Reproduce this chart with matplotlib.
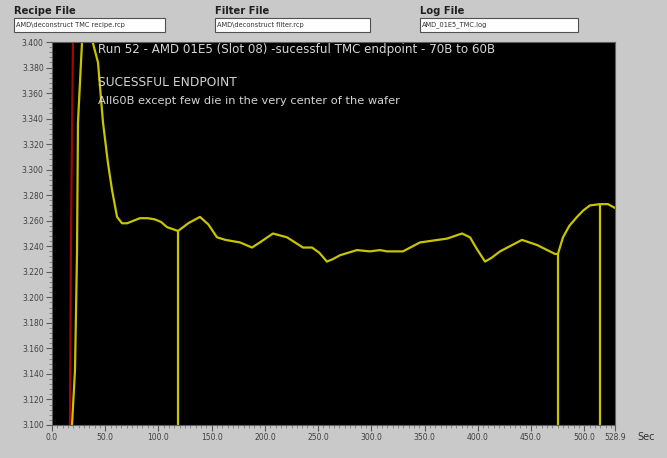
import matplotlib
matplotlib.use("Agg")
import matplotlib.pyplot as plt
from matplotlib.patches import Rectangle
from matplotlib.ticker import MultipleLocator, FixedLocator

# Endpoint trace (seconds, signal)
time_s = [18.8, 21.6, 23.5, 24.4, 28.2, 33.0, 38.5, 43.2, 47.9, 52.6, 56.4,
          61.1, 65.8, 70.5, 76.5, 82.7, 90.0, 96.8, 102.5, 108.0, 118.4,
          128.0, 139.0, 147.0, 155.0, 163.0, 176.6, 187.9, 197.0, 207.6,
          220.8, 235.8, 244.3, 251.0, 258.3, 264.0, 270.6, 286.5, 298.7,
          308.1, 314.7, 329.7, 345.7, 371.1, 385.2, 392.7, 399.0, 406.8,
          413.0, 420.9, 441.5, 455.6, 472.5, 475.3, 480.0, 486.0, 493.2,
          499.0, 505.4, 514.8, 522.3, 528.9]
signal = [3.100, 3.143, 3.235, 3.337, 3.400, 3.460, 3.399, 3.384, 3.337,
          3.305, 3.284, 3.263, 3.258, 3.258, 3.260, 3.262, 3.262, 3.261,
          3.259, 3.255, 3.252, 3.258, 3.263, 3.257, 3.247, 3.245, 3.243,
          3.239, 3.244, 3.250, 3.247, 3.239, 3.239, 3.235, 3.228, 3.230,
          3.233, 3.237, 3.236, 3.237, 3.236, 3.236, 3.243, 3.246, 3.250,
          3.247, 3.238, 3.228, 3.231, 3.236, 3.245, 3.241, 3.234, 3.234,
          3.247, 3.256, 3.263, 3.268, 3.272, 3.273, 3.273, 3.270]

# Reference trace (red)
ref_time = [16.9, 17.8, 19.7]
ref_signal = [3.100, 3.243, 3.400]

# Endpoint markers (seconds, signal at marker)
marker_time = [118.4, 475.3, 514.8]
marker_signal = [3.252, 3.234, 3.273]

x_ticks = [0.0, 50.0, 100.0, 150.0, 200.0, 250.0, 300.0, 350.0, 400.0,
           450.0, 500.0, 528.9]
x_tick_labels = ["0.0", "50.0", "100.0", "150.0", "200.0", "250.0", "300.0",
                 "350.0", "400.0", "450.0", "500.0", "528.9"]
y_ticks = [3.100 + 0.020 * i for i in range(16)]

title_line = "Run 52 - AMD 01E5 (Slot 08) -sucessful TMC endpoint - 70B to 60B"
note_lines = ["SUCESSFUL ENDPOINT",
              "All60B except few die in the very center of the wafer"]

file_labels = ["Recipe File", "Filter File", "Log File"]
file_names = ["AMD\\deconstruct TMC recipe.rcp", "AMD\\deconstruct filter.rcp",
              "AMD_01E5_TMC.log"]

W, H = 667, 458
BG = "#c9c9c9"
YEL = "#c8c400"
RED = "#a00808"
TXT = "#d4d4d4"

fig = plt.figure(figsize=(W / 100, H / 100), dpi=100, facecolor=BG)

def fx(px):
    return px / W

def fy(py):
    return 1 - py / H

# File selector boxes along the top
box_x = [14, 215, 420]
box_w = [151, 155, 158]
for bx, bw, lab, name in zip(box_x, box_w, file_labels, file_names):
    fig.text(fx(bx), fy(11), lab, fontsize=7.2, fontweight="bold",
             color="#202020", va="center", ha="left")
    fig.patches.append(Rectangle((fx(bx), fy(32)), fx(bw), 14 / H,
                                 transform=fig.transFigure, facecolor="white",
                                 edgecolor="#505050", linewidth=0.8))
    fig.text(fx(bx + 2), fy(25), name, fontsize=4.8, color="#303030",
             va="center", ha="left")

ax = fig.add_axes([fx(52), 1 - 425 / H, fx(563), 383 / H])
ax.set_facecolor("black")

ax.plot(ref_time, ref_signal, color=RED, linewidth=1.6, solid_joinstyle="round")
ax.plot(time_s, signal, color=YEL, linewidth=1.6, solid_joinstyle="round")
ax.vlines(marker_time, 3.0, marker_signal, color=YEL, linewidth=1.6)

ax.set_xlim(0, 528.9)
ax.set_ylim(3.100, 3.400)

ax.xaxis.set_major_locator(FixedLocator(x_ticks))
ax.set_xticklabels(x_tick_labels)
ax.xaxis.set_minor_locator(MultipleLocator(5))
ax.yaxis.set_major_locator(FixedLocator(y_ticks))
ax.set_yticklabels([f"{v:.3f}" for v in y_ticks])
ax.yaxis.set_minor_locator(MultipleLocator(0.004))

ax.tick_params(axis="both", which="major", labelsize=5.5, colors="#5a5a5a",
               length=4, width=0.8, pad=2)
ax.tick_params(axis="both", which="minor", length=2, width=0.6,
               colors="#7a7a7a")
for lbl in ax.get_xticklabels() + ax.get_yticklabels():
    lbl.set_color("#404040")
for sp in ax.spines.values():
    sp.set_color("#606060")
    sp.set_linewidth(0.8)

fig.text(fx(637), fy(437), "Sec", fontsize=7, color="#303030",
         va="center", ha="left")

x0 = (98 - 52) / 563
ax.text(x0, 1 - 8 / 383, title_line, transform=ax.transAxes,
        fontsize=8.6, color=TXT, va="center", ha="left")
ax.text(x0, 1 - 41 / 383, note_lines[0], transform=ax.transAxes,
        fontsize=8.8, color=TXT, va="center", ha="left")
ax.text(x0, 1 - 59 / 383, note_lines[1], transform=ax.transAxes,
        fontsize=8.2, color=TXT, va="center", ha="left")

fig.savefig("out.png", dpi=100, facecolor=BG)
